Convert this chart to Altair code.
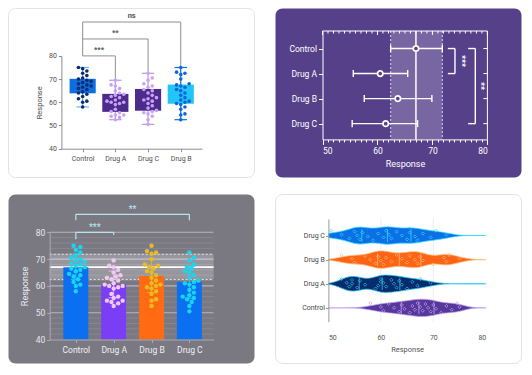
import altair as alt
import pandas as pd

FONT = "Roboto"

# ---------------- data ----------------
groups = ["Control", "Drug A", "Drug B", "Drug C"]
control = [58.0, 60.0, 60.5, 61.5, 62.5, 63.5, 64.0, 64.5, 65.5, 66.0, 66.5, 67.0,
           67.5, 68.0, 68.5, 69.0, 69.5, 70.0, 70.5, 71.5, 72.5, 73.5, 74.5, 75.0]
drug_a = [52.5, 53.5, 54.0, 54.5, 54.5, 55.5, 56.0, 57.0, 59.0, 60.0, 59.5, 60.0,
          60.5, 61.0, 62.0, 62.5, 63.0, 63.5, 64.0, 65.0, 66.0, 67.0, 67.5, 69.5]
drug_b = [52.5, 54.5, 55.0, 57.0, 58.0, 59.0, 59.5, 60.0, 60.5, 61.0, 62.0, 63.0,
          64.0, 65.0, 65.5, 66.5, 67.0, 67.5, 68.0, 70.0, 72.0, 72.5, 73.0, 75.0]
drug_c = [50.5, 52.5, 54.0, 55.0, 55.5, 56.0, 56.5, 57.5, 58.5, 59.5, 60.5, 61.0,
          61.5, 62.0, 63.0, 64.0, 65.0, 65.5, 66.5, 67.0, 68.0, 69.5, 70.5, 72.5]
means = [67.0, 60.5, 63.7, 61.5]
sd_lo = [62.4, 55.6, 57.6, 55.4]
sd_hi = [71.8, 65.5, 69.9, 67.3]

order_box = ["Control", "Drug A", "Drug C", "Drug B"]
order_err = ["Control", "Drug A", "Drug B", "Drug C"]
order_bar = ["Control", "Drug A", "Drug B", "Drug C"]
order_vio = ["Drug C", "Drug B", "Drug A", "Control"]

sig1 = [("Control", "Drug A", "***"), ("Control", "Drug C", "**"), ("Control", "Drug B", "ns")]
sig2 = [("Control", "Drug A", "***"), ("Control", "Drug C", "**")]
sig3 = [("Control", "Drug A", "***"), ("Control", "Drug C", "**")]

x_ticks2 = list(range(50, 81))

series = dict(zip(groups, [control, drug_a, drug_b, drug_c]))
stat = {g: (m, lo, hi) for g, m, lo, hi in zip(groups, means, sd_lo, sd_hi)}

CW, CH = 247, 170   # card size (each panel = one card)


def cat_expr(names):
    return "[" + ",".join("'%s'" % n for n in names) + "][datum.value]"


def swarm(vals, ppu, d, maxoff):
    placed = []
    offs = [0.0] * len(vals)
    order = sorted(range(len(vals)), key=lambda i: vals[i])
    cands = [0.0]
    k = 1
    while k * d / 2 <= maxoff:
        cands += [k * d / 2, -k * d / 2]
        k += 1
    for i in order:
        y = vals[i] * ppu
        best = None
        for c in cands:
            if all((c - px) ** 2 + (y - py) ** 2 >= d * d * 0.97 for py, px in placed):
                best = c
                break
        if best is None:
            best = max(cands, key=lambda c: min((c - px) ** 2 + (y - py) ** 2 for py, px in placed))
        placed.append((y, best))
        offs[i] = best
    return offs


def card(fill, stroke=None):
    kw = dict(fill=fill, cornerRadius=7)
    if stroke:
        kw.update(stroke=stroke, strokeWidth=1)
    return alt.Chart(pd.DataFrame({"c": [0]})).mark_rect(**kw).encode(
        x=alt.value(0.5), x2=alt.value(CW - 0.5), y=alt.value(0.5), y2=alt.value(CH - 0.5))


one = pd.DataFrame({"c": [0]})

# ================= Panel 1: box plots =================
L1, R1, T1, B1 = 53.4, 194.0, 47.9, 140.7
xs1 = alt.Scale(domain=[-0.65, 3.65], range=[L1, R1], nice=False, zero=False)
ys1 = alt.Scale(domain=[40, 80], range=[B1, T1], nice=False, zero=False)
rows = []
for i, g in enumerate(order_box):
    offs = swarm(series[g], (B1 - T1) / 40, 4.2, 12)
    for v, o in zip(series[g], offs):
        rows.append(dict(group=g, idx=i, value=v, xp=i + o / ((R1 - L1) / 4.3)))
df1 = pd.DataFrame(rows)

g1 = "#8d8d8d"
ax1x = alt.Axis(values=[0, 1, 2, 3], labelExpr=cat_expr(order_box), title=None, grid=False,
                domainColor=g1, tickColor=g1, tickSize=3, labelColor="#4d4d4d",
                labelFontSize=7, labelPadding=3, zindex=1, offset=B1 - CH)
ax1y = alt.Axis(values=[40, 50, 60, 70, 80], title="Response", grid=False, domainColor=g1,
                tickColor=g1, tickSize=3, labelColor="#4d4d4d", labelFontSize=7,
                titleColor="#4d4d4d", titleFontSize=7.5, titleFontWeight="normal",
                titlePadding=5, zindex=1, offset=-L1)
box_fill = alt.Scale(domain=order_box, range=["#0b6fe0", "#4b2b8c", "#4b2b8c", "#22c5f6"])
whisk_col = alt.Scale(domain=order_box, range=["#69b2f5", "#b894f2", "#b894f2", "#0b6fe0"])
dot_col1 = alt.Scale(domain=order_box, range=["#0b2c72", "#c9a2f6", "#c9a2f6", "#0b66dc"])

stats1 = alt.Chart(df1).transform_aggregate(
    q1="q1(value)", q3="q3(value)", lo="min(value)", hi="max(value)",
    groupby=["group", "idx"]).transform_calculate(
    xa="datum.idx-0.4", xb="datum.idx+0.4", ca="datum.idx-0.19", cb="datum.idx+0.19")

whisk1 = stats1.mark_rule(strokeWidth=1.2).encode(
    x=alt.X("idx:Q", scale=xs1, axis=ax1x), y=alt.Y("lo:Q", scale=ys1, axis=ax1y),
    y2="hi:Q", color=alt.Color("group:N", scale=whisk_col, legend=None))
caps1 = stats1.transform_fold(["lo", "hi"], as_=["k", "v"]).mark_rule(strokeWidth=1.2).encode(
    x=alt.X("ca:Q", scale=xs1, axis=ax1x), x2="cb:Q",
    y=alt.Y("v:Q", scale=ys1, axis=ax1y),
    color=alt.Color("group:N", scale=whisk_col, legend=None))
box1 = stats1.mark_bar().encode(
    x=alt.X("xa:Q", scale=xs1, axis=ax1x), x2="xb:Q",
    y=alt.Y("q1:Q", scale=ys1, axis=ax1y), y2="q3:Q",
    color=alt.Color("group:N", scale=box_fill, legend=None))
dots1 = alt.Chart(df1).mark_circle(size=13, opacity=1).encode(
    x=alt.X("xp:Q", scale=xs1, axis=ax1x), y=alt.Y("value:Q", scale=ys1, axis=ax1y),
    color=alt.Color("group:N", scale=dot_col1, legend=None))

lev1 = [80.0, 87.3, 94.6]
segs, texts = [], []
for (a, b, t), Lv in zip(sig1, lev1):
    ia, ib = order_box.index(a), order_box.index(b)
    segs.append(dict(xa=ia, xb=ib, ya=Lv, yb=Lv))
    segs.append(dict(xa=ib, xb=ib, ya=Lv, yb=max(series[b]) + 0.2))
    texts.append(dict(x=(ia + ib) / 2, y=Lv + 2.6, t=t))
segs.append(dict(xa=0, xb=0, ya=max(lev1), yb=80.0))
brk1 = alt.Chart(pd.DataFrame(segs)).mark_rule(color="#8f8f8f", strokeWidth=1).encode(
    x=alt.X("xa:Q", scale=xs1, axis=ax1x), x2="xb:Q",
    y=alt.Y("ya:Q", scale=ys1, axis=ax1y), y2="yb:Q")
txt1 = alt.Chart(pd.DataFrame(texts)).mark_text(fontSize=7.5, color="#555555", fontWeight="bold").encode(
    x=alt.X("x:Q", scale=xs1, axis=ax1x), y=alt.Y("y:Q", scale=ys1, axis=ax1y), text="t:N")

p1 = alt.layer(card("#ffffff", "#e2e2e2"), whisk1, brk1, caps1, box1, dots1, txt1
               ).resolve_scale(color="independent").properties(width=CW, height=CH)

# ================= Panel 2: mean +/- SD (purple) =================
L2, R2, T2, B2 = 47.5, 212.4, 23.0, 131.4
xs2 = alt.Scale(domain=[50, 80], range=[L2, R2], nice=False, zero=False)
ys2 = alt.Scale(domain=[-0.70, 3.63], range=[T2, B2], nice=False, zero=False)
df2 = pd.DataFrame({"group": order_err, "idx": list(range(4)),
                    "mean": [stat[g][0] for g in order_err],
                    "lo": [stat[g][1] for g in order_err],
                    "hi": [stat[g][2] for g in order_err]})
PURPLE = "#56408a"
tick_cond = {"condition": {"test": "datum.value % 10 === 0", "value": 5}, "value": 2.5}
ax2x = alt.Axis(values=x_ticks2, labelExpr="datum.value % 10 === 0 ? datum.label : ''",
                tickSize=tick_cond, title="Response", grid=False, domainColor="white",
                tickColor="white", labelColor="white", labelFontSize=8.5, labelPadding=2,
                titleColor="white", titleFontSize=9, titleFontWeight="normal", titlePadding=5,
                labelOverlap=False, zindex=1, offset=B2 - CH)
ax2y = alt.Axis(values=[0, 1, 2, 3], labelExpr=cat_expr(order_err), title=None, grid=False,
                domainColor="white", tickColor="white", tickSize=4, labelColor="white",
                labelFontSize=8.5, labelPadding=2, zindex=1, offset=-L2)

ctrl2 = alt.Chart(df2).transform_filter("datum.group == 'Control'")
band2 = ctrl2.mark_rect(fill="white", opacity=0.2).encode(
    x=alt.X("lo:Q", scale=xs2, axis=ax2x), x2="hi:Q", y=alt.value(T2), y2=alt.value(B2))
edges2 = ctrl2.transform_fold(["lo", "hi"], as_=["k", "v"]).mark_rule(
    color="white", strokeDash=[2, 2], opacity=0.75, strokeWidth=1).encode(
    x=alt.X("v:Q", scale=xs2, axis=ax2x), y=alt.value(T2), y2=alt.value(B2))
mean2 = ctrl2.mark_rule(color="white", strokeWidth=1.5).encode(
    x=alt.X("mean:Q", scale=xs2, axis=ax2x), y=alt.value(T2), y2=alt.value(B2))
err2 = alt.Chart(df2).mark_rule(color="white", strokeWidth=1.4).encode(
    x=alt.X("lo:Q", scale=xs2, axis=ax2x), x2="hi:Q",
    y=alt.Y("idx:Q", scale=ys2, axis=ax2y))
frame_top = alt.Chart(one).mark_rule(color="white", strokeWidth=1).encode(
    x=alt.value(L2), x2=alt.value(R2), y=alt.value(T2))
frame_right = alt.Chart(one).mark_rule(color="white", strokeWidth=1).encode(
    x=alt.value(R2), y=alt.value(T2), y2=alt.value(B2))
tk = alt.Chart(pd.DataFrame({"v": x_ticks2}))
top_major = tk.transform_filter("datum.v % 10 === 0").mark_rule(color="white", strokeWidth=1).encode(
    x=alt.X("v:Q", scale=xs2, axis=ax2x), y=alt.value(T2), y2=alt.value(T2 + 4))
top_minor = tk.transform_filter("datum.v % 10 !== 0").mark_rule(color="white", strokeWidth=1).encode(
    x=alt.X("v:Q", scale=xs2, axis=ax2x), y=alt.value(T2), y2=alt.value(T2 + 2.5))
right_ticks = alt.Chart(df2).mark_rule(color="white", strokeWidth=1).encode(
    y=alt.Y("idx:Q", scale=ys2, axis=ax2y), x=alt.value(R2 - 4), x2=alt.value(R2))
caps2 = alt.Chart(df2).transform_fold(["lo", "hi"], as_=["k", "v"]).transform_calculate(
    ya="datum.idx-0.14", yb="datum.idx+0.14").mark_rule(color="white", strokeWidth=1.4).encode(
    x=alt.X("v:Q", scale=xs2, axis=ax2x), y=alt.Y("ya:Q", scale=ys2, axis=ax2y), y2="yb:Q")
pts2 = alt.Chart(df2).mark_point(shape="circle", filled=True, fill=PURPLE, stroke="white",
                                 strokeWidth=1.8, size=30, opacity=1, fillOpacity=1).encode(
    x=alt.X("mean:Q", scale=xs2, axis=ax2x), y=alt.Y("idx:Q", scale=ys2, axis=ax2y))
br_in = [72.8, 76.5]
br_out = [74.1, 77.8]
br_txt = [75.3, 78.9]
segs, texts = [], []
for (a, b, t), xi, xo, xt in zip(sig2, br_in, br_out, br_txt):
    ia, ib = order_err.index(a), order_err.index(b)
    segs += [dict(xa=xo, xb=xo, ya=ia, yb=ib), dict(xa=xi, xb=xo, ya=ia, yb=ia),
             dict(xa=xi, xb=xo, ya=ib, yb=ib)]
    texts.append(dict(x=xt, y=(ia + ib) / 2, t=t))
brk2 = alt.Chart(pd.DataFrame(segs)).mark_rule(color="white", strokeWidth=1.4).encode(
    x=alt.X("xa:Q", scale=xs2, axis=ax2x), x2="xb:Q",
    y=alt.Y("ya:Q", scale=ys2, axis=ax2y), y2="yb:Q")
txt2 = alt.Chart(pd.DataFrame(texts)).mark_text(angle=90, fontSize=9, color="white",
                                                fontWeight="bold").encode(
    x=alt.X("x:Q", scale=xs2, axis=ax2x), y=alt.Y("y:Q", scale=ys2, axis=ax2y), text="t:N")

p2 = alt.layer(card(PURPLE), band2, edges2, mean2, err2, frame_top, frame_right,
               top_major, top_minor, right_ticks, caps2, pts2, brk2, txt2).properties(
    width=CW, height=CH)

# ================= Panel 3: bars + dots (grey) =================
L3, R3, T3, B3 = 41.7, 205.6, 38.3, 145.5
xs3 = alt.Scale(domain=[-0.69, 3.64], range=[L3, R3], nice=False, zero=False)
ys3 = alt.Scale(domain=[40, 80], range=[B3, T3], nice=False, zero=False)
GREY = "#7a7982"
rows = []
for i, g in enumerate(order_bar):
    offs = swarm(series[g], (B3 - T3) / 40, 4.5, 14)
    for v, o in zip(series[g], offs):
        rows.append(dict(group=g, idx=i, value=v, xp=i + o / ((R3 - L3) / 4.33)))
df3 = pd.DataFrame(rows)
df3b = pd.DataFrame({"group": order_bar, "idx": list(range(4)),
                     "mean": [stat[g][0] for g in order_bar],
                     "lo": [stat[g][1] for g in order_bar],
                     "hi": [stat[g][2] for g in order_bar]})
bar_fill = alt.Scale(domain=order_bar, range=["#0a6ff0", "#7a3ff5", "#ff6a12", "#0a6ff0"])
dot_col3 = alt.Scale(domain=order_bar, range=["#18d6f2", "#f2c8f4", "#e9bb22", "#18d6f2"])
ac3 = "#a9a9b8"
ax3x = alt.Axis(values=[0, 1, 2, 3], labelExpr=cat_expr(order_bar), title=None, grid=False,
                domainColor=ac3, tickColor=ac3, tickSize=3, labelColor="#f0f0f5",
                labelFontSize=8.5, labelPadding=3, zindex=1, offset=B3 - CH)
ax3y = alt.Axis(values=[40, 50, 60, 70, 80], title="Response", grid=False, domainColor=ac3,
                tickColor=ac3, tickSize=3, labelColor="#e6e6ee", labelFontSize=8.5,
                titleColor="#ececf2", titleFontSize=9, titleFontWeight="normal",
                titlePadding=6, zindex=1, offset=-L3)
grid_minor = [v for v in range(42, 80, 2) if v % 10 != 0]
grid_major = [50, 60, 70, 80]
gmin3 = alt.Chart(pd.DataFrame({"v": grid_minor})).mark_rule(color="#8b8a95", strokeWidth=0.8).encode(
    y=alt.Y("v:Q", scale=ys3, axis=ax3y), x=alt.value(L3), x2=alt.value(R3))
gmaj3 = alt.Chart(pd.DataFrame({"v": grid_major})).mark_rule(color="#b3b5c8", strokeWidth=1.1).encode(
    y=alt.Y("v:Q", scale=ys3, axis=ax3y), x=alt.value(L3), x2=alt.value(R3))
ctrl3 = alt.Chart(df3b).transform_filter("datum.group == 'Control'")
band3 = ctrl3.mark_rect(fill="white", opacity=0.22).encode(
    y=alt.Y("lo:Q", scale=ys3, axis=ax3y), y2="hi:Q", x=alt.value(L3), x2=alt.value(R3))
edges3 = ctrl3.transform_fold(["lo", "hi"], as_=["k", "v"]).mark_rule(
    color="white", strokeDash=[2, 2], opacity=0.8).encode(
    y=alt.Y("v:Q", scale=ys3, axis=ax3y), x=alt.value(L3), x2=alt.value(R3))
mean3 = ctrl3.mark_rule(color="white", strokeWidth=1.8).encode(
    y=alt.Y("mean:Q", scale=ys3, axis=ax3y), x=alt.value(L3), x2=alt.value(R3))
bars3 = alt.Chart(df3b).transform_calculate(xa="datum.idx-0.33", xb="datum.idx+0.33", base="40").mark_bar().encode(
    x=alt.X("xa:Q", scale=xs3, axis=ax3x), x2="xb:Q",
    y=alt.Y("mean:Q", scale=ys3, axis=ax3y), y2="base:Q",
    color=alt.Color("group:N", scale=bar_fill, legend=None))
err3 = alt.Chart(df3b).mark_rule(strokeWidth=1, opacity=0.8).encode(
    x=alt.X("idx:Q", scale=xs3, axis=ax3x), y=alt.Y("lo:Q", scale=ys3, axis=ax3y), y2="hi:Q",
    color=alt.Color("group:N", scale=dot_col3, legend=None))
caps3 = alt.Chart(df3b).transform_fold(["lo", "hi"], as_=["k", "v"]).transform_calculate(
    xa="datum.idx-0.13", xb="datum.idx+0.13").mark_rule(strokeWidth=1, opacity=0.8).encode(
    x=alt.X("xa:Q", scale=xs3, axis=ax3x), x2="xb:Q", y=alt.Y("v:Q", scale=ys3, axis=ax3y),
    color=alt.Color("group:N", scale=dot_col3, legend=None))
dots3 = alt.Chart(df3).mark_circle(size=19, opacity=1).encode(
    x=alt.X("xp:Q", scale=xs3, axis=ax3x), y=alt.Y("value:Q", scale=ys3, axis=ax3y),
    color=alt.Color("group:N", scale=dot_col3, legend=None))
lev3 = [80.0, 86.7]
drops3 = [(77.4, 79.0), (84.5, 84.5)]
segs, texts = [], []
for (a, b, t), Lv, (da, db) in zip(sig3, lev3, drops3):
    ia, ib = order_bar.index(a), order_bar.index(b)
    segs += [dict(xa=ia, xb=ib, ya=Lv, yb=Lv), dict(xa=ia, xb=ia, ya=Lv, yb=da),
             dict(xa=ib, xb=ib, ya=Lv, yb=db)]
    texts.append(dict(x=(ia + ib) / 2, y=Lv + 2.1, t=t))
brk3 = alt.Chart(pd.DataFrame(segs)).mark_rule(color="#b5e4ee", strokeWidth=1.2).encode(
    x=alt.X("xa:Q", scale=xs3, axis=ax3x), x2="xb:Q",
    y=alt.Y("ya:Q", scale=ys3, axis=ax3y), y2="yb:Q")
txt3 = alt.Chart(pd.DataFrame(texts)).mark_text(fontSize=8.5, color="#b5e4ee", fontWeight="bold").encode(
    x=alt.X("x:Q", scale=xs3, axis=ax3x), y=alt.Y("y:Q", scale=ys3, axis=ax3y), text="t:N")

p3 = alt.layer(card(GREY), gmin3, gmaj3, band3, edges3, mean3, bars3,
               err3, caps3, dots3, brk3, txt3).resolve_scale(color="independent").properties(
    width=CW, height=CH)

# ================= Panel 4: violins =================
L4, R4, T4, B4 = 53.4, 210.8, 24.9, 127.6
xs4 = alt.Scale(domain=[50, 80], range=[L4, R4], nice=False, zero=False)
ys4 = alt.Scale(domain=[-0.69, 3.57], range=[T4, B4], nice=False, zero=False)
rows = []
for i, g in enumerate(order_vio):
    for j, v in enumerate(series[g]):
        jit = (((j * 37 + i * 11) % 11) - 5) / 5 * 0.2
        rows.append(dict(group=g, idx=i, value=v, yp=i + jit))
df4 = pd.DataFrame(rows)
vfill = alt.Scale(domain=order_vio, range=["#0b6fe6", "#ff6414", "#072c6e", "#56389a"])
vstroke = alt.Scale(domain=order_vio, range=["#31dcff", "#ffbd7a", "#28c4ee", "#c6a2f6"])
ax4x = alt.Axis(values=[50, 60, 70, 80], title="Response", grid=False, domain=False, ticks=False,
                labelColor="#555555", labelFontSize=7, labelPadding=12, titleColor="#555555",
                titleFontSize=7.5, titleFontWeight="normal", titlePadding=5, zindex=1,
                offset=B4 - CH)
ax4y = alt.Axis(values=[0, 1, 2, 3], labelExpr=cat_expr(order_vio), title=None, grid=False,
                domainColor="#9a9a9a", tickColor="#9a9a9a", tickSize=3, labelColor="#444444",
                labelFontSize=7, labelPadding=1, zindex=1, offset=-L4)
grid4 = alt.Chart(pd.DataFrame({"v": [60, 70]})).mark_rule(color="#ededed", strokeWidth=1).encode(
    x=alt.X("v:Q", scale=xs4, axis=ax4x), y=alt.value(T4), y2=alt.value(B4))
vio4 = alt.Chart(df4).transform_density(
    "value", groupby=["group", "idx"], extent=[50, 80], bandwidth=1.6, steps=160,
    as_=["v", "dens"]).transform_joinaggregate(
    mx="max(dens)", groupby=["group"]).transform_calculate(
    ya="datum.idx - datum.dens/datum.mx*0.36", yb="datum.idx + datum.dens/datum.mx*0.36"
).mark_area(orient="vertical", strokeWidth=0.8, opacity=1).encode(
    x=alt.X("v:Q", scale=xs4, axis=ax4x), y=alt.Y("ya:Q", scale=ys4, axis=ax4y), y2="yb:Q",
    fill=alt.Fill("group:N", scale=vfill, legend=None),
    stroke=alt.Stroke("group:N", scale=vstroke, legend=None), detail="group:N")
qlines4 = alt.Chart(df4).transform_aggregate(
    q1="q1(value)", md="median(value)", q3="q3(value)", groupby=["group", "idx"]
).transform_fold(["q1", "md", "q3"], as_=["k", "q"]).transform_calculate(
    ya="datum.idx-0.26", yb="datum.idx+0.26").mark_rule(strokeWidth=0.9, opacity=0.9).encode(
    x=alt.X("q:Q", scale=xs4, axis=ax4x), y=alt.Y("ya:Q", scale=ys4, axis=ax4y), y2="yb:Q",
    stroke=alt.Stroke("group:N", scale=vstroke, legend=None))
dots4 = alt.Chart(df4).mark_point(shape="diamond", filled=False, size=10, strokeWidth=0.8,
                                  opacity=0.9).encode(
    x=alt.X("value:Q", scale=xs4, axis=ax4x), y=alt.Y("yp:Q", scale=ys4, axis=ax4y),
    stroke=alt.Stroke("group:N", scale=vstroke, legend=None))

p4 = alt.layer(card("#ffffff", "#e2e2e2"), grid4, vio4, qlines4, dots4
               ).properties(width=CW, height=CH)

# ================= layout =================
top = alt.hconcat(p1, p2, spacing=20)
bottom = alt.hconcat(p3, p4, spacing=20)
chart = alt.vconcat(top, bottom, spacing=16).properties(
    padding=0, background="#ffffff").configure_view(stroke=None).configure_axis(
    labelFont=FONT, titleFont=FONT).configure_text(font=FONT)

chart.save("out.html", embed_options={"renderer": "svg", "actions": False})
